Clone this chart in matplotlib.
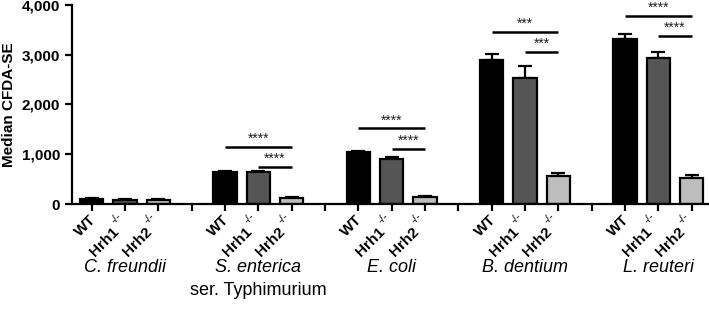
import matplotlib
matplotlib.use("Agg")
import matplotlib.pyplot as plt
import numpy as np

# grupos e genotipos
grupos = ["C. freundii", "S. enterica", "E. coli", "B. dentium", "L. reuteri"]
subtitulos = ["", "ser. Typhimurium", "", "", ""]
genotipos = ["WT", "Hrh1", "Hrh2"]

# valores (mediana CFDA-SE)
wt_media = [100, 645, 1050, 2895, 3320]
wt_erro = [15, 25, 20, 110, 100]
hrh1_media = [90, 650, 900, 2530, 2930]
hrh1_erro = [10, 10, 50, 250, 120]
hrh2_media = [85, 115, 135, 570, 515]
hrh2_erro = [20, 30, 25, 50, 60]

# barras de significancia (grupo, altura WT-Hrh2, altura Hrh1-Hrh2, texto)
sig_grupos = [1, 2, 3, 4]
sig_longa = [1150, 1520, 3460, 3780]
sig_curta = [740, 1110, 3050, 3375]
sig_texto = ["****", "****", "***", "****"]

plt.rcParams["font.family"] = ["Liberation Sans", "DejaVu Sans"]

cores = ["#000000", "#555555", "#bdbdbd"]
medias = [wt_media, hrh1_media, hrh2_media]
erros = [wt_erro, hrh1_erro, hrh2_erro]

fig = plt.figure(figsize=(7.09, 3.11), dpi=100)
ax = fig.add_axes([0.1016, 0.344, 0.8984, 0.640])

passo = 4
for j in range(3):
    xs = np.arange(len(grupos)) * passo + j
    ax.bar(xs, medias[j], width=0.7, color=cores[j], edgecolor="black",
           linewidth=1.6, zorder=2)
    ax.errorbar(xs, medias[j], yerr=[np.zeros(len(grupos)), erros[j]],
                fmt="none", ecolor="black", elinewidth=1.6, capsize=5,
                capthick=1.6, zorder=1)

for g, y_l, y_c, txt in zip(sig_grupos, sig_longa, sig_curta, sig_texto):
    x0 = g * passo
    ax.plot([x0, x0 + 2], [y_l, y_l], color="black", lw=1.8, solid_capstyle="butt")
    ax.plot([x0 + 1, x0 + 2], [y_c, y_c], color="black", lw=1.8, solid_capstyle="butt")
    ax.text(x0 + 1, y_l + 20, txt, ha="center", va="bottom", fontsize=10, color="#222222")
    ax.text(x0 + 1.5, y_c + 20, txt, ha="center", va="bottom", fontsize=10, color="#222222")

# ticks em todas as posicoes (incluindo os espacos entre grupos)
posicoes = np.arange(0, len(grupos) * passo - 1)
ax.set_xticks(posicoes)
ax.set_xticklabels([])

# rotulos rotacionados feitos a mao (texto + expoente -/-)
for p in posicoes:
    k = p % passo
    if k == 0:
        ax.annotate("WT", xy=(p, 0), xycoords=("data", "axes fraction"),
                    xytext=(3.4, -11.5), textcoords="offset points",
                    rotation=45, rotation_mode="anchor", ha="right", va="baseline",
                    fontsize=11, fontweight="bold")
    elif k in (1, 2):
        ax.annotate(genotipos[k], xy=(p, 0), xycoords=("data", "axes fraction"),
                    xytext=(-4.2, -20.5), textcoords="offset points",
                    rotation=45, rotation_mode="anchor", ha="right", va="baseline",
                    fontsize=11, fontweight="bold")
        ax.annotate("-/-", xy=(p, 0), xycoords=("data", "axes fraction"),
                    xytext=(-7.5, -14.5), textcoords="offset points",
                    rotation=45, rotation_mode="anchor", ha="left", va="baseline",
                    fontsize=8)

ax.set_xlim(-0.59, 18.52)
ax.set_ylim(0, 4000)
ax.set_yticks([0, 1000, 2000, 3000, 4000])
ax.set_yticklabels(["0", "1,000", "2,000", "3,000", "4,000"], fontsize=11, fontweight="bold")
ax.set_ylabel("Median CFDA-SE", fontsize=11, fontweight="bold", labelpad=4)

for lado in ["top", "right"]:
    ax.spines[lado].set_visible(False)
for lado in ["left", "bottom"]:
    ax.spines[lado].set_linewidth(1.6)
ax.tick_params(axis="both", width=1.6, length=5, direction="out")

for i, (nome, sub) in enumerate(zip(grupos, subtitulos)):
    xg = i * passo + 1
    ax.text(xg, -1270, nome, ha="center", va="center", fontsize=13, style="italic",
            clip_on=False)
    if sub:
        ax.text(xg, -1740, sub, ha="center", va="center", fontsize=13, clip_on=False)

fig.savefig("out.png", dpi=100)
